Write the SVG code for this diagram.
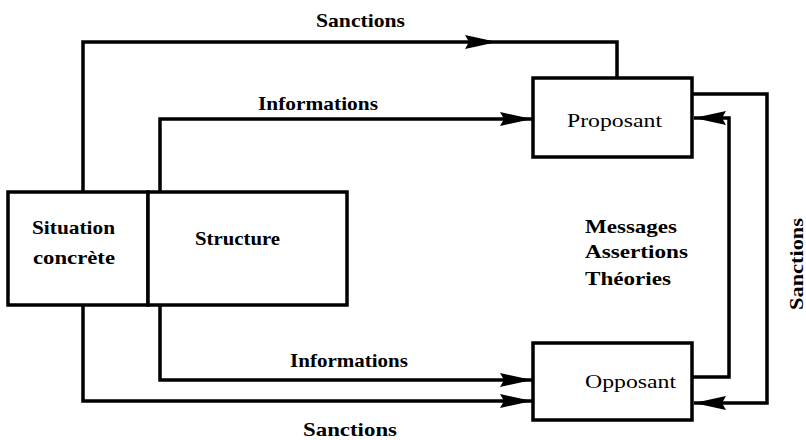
<svg xmlns="http://www.w3.org/2000/svg" width="806" height="440" viewBox="0 0 806 440">
<style>
.box{fill:#fff;stroke:#000;stroke-width:3.5}
.ln{fill:none;stroke:#000;stroke-width:3.5}
.t{font-family:"Liberation Serif","Times New Roman",serif;font-size:19px;font-weight:bold;fill:#000}
.n{font-family:"Liberation Serif","Times New Roman",serif;font-size:19px;fill:#000}
</style>
<defs>
<marker id="ah" markerUnits="userSpaceOnUse" markerWidth="34" markerHeight="18" refX="32" refY="9" orient="auto">
<path d="M0,2 L32,9 L0,16 L4,9 Z" fill="#000"/>
</marker>
</defs>
<g id="connectors">
<path class="ln" d="M83,191 L83,42 L497,42" marker-end="url(#ah)"/>
<path class="ln" d="M497,42 L617,42 L617,78"/>
<path class="ln" d="M160,191 L160,119 L532,119" marker-end="url(#ah)"/>
<path class="ln" d="M160,305 L160,380 L532,380" marker-end="url(#ah)"/>
<path class="ln" d="M83,305 L83,401 L532,401" marker-end="url(#ah)"/>
<path class="ln" d="M692,94 L767,94 L767,403 L694,403" marker-end="url(#ah)"/>
<path class="ln" d="M692,377 L729,377 L729,118 L694,118" marker-end="url(#ah)"/>
</g>
<g id="situation">
<rect class="box" x="8" y="192" width="140" height="113"/>
<text class="t" x="32" y="234" textLength="83" lengthAdjust="spacingAndGlyphs">Situation</text>
<text class="t" x="33" y="264" textLength="82" lengthAdjust="spacingAndGlyphs">concrète</text>
</g>
<g id="structure">
<rect class="box" x="148" y="192" width="199" height="113"/>
<text class="t" x="195" y="245" textLength="85" lengthAdjust="spacingAndGlyphs">Structure</text>
</g>
<g id="proposant">
<rect class="box" x="533" y="78" width="159" height="79"/>
<text class="n" x="567" y="127" textLength="95" lengthAdjust="spacingAndGlyphs">Proposant</text>
</g>
<g id="opposant">
<rect class="box" x="533" y="343" width="159" height="77"/>
<text class="n" x="585" y="388" textLength="91" lengthAdjust="spacingAndGlyphs">Opposant</text>
</g>
<g id="labels">
<text class="t" x="316" y="27" textLength="89" lengthAdjust="spacingAndGlyphs">Sanctions</text>
<text class="t" x="258" y="110" textLength="120" lengthAdjust="spacingAndGlyphs">Informations</text>
<text class="t" x="290" y="367" textLength="118" lengthAdjust="spacingAndGlyphs">Informations</text>
<text class="t" x="303" y="436" textLength="94" lengthAdjust="spacingAndGlyphs">Sanctions</text>
<text class="t" x="585" y="233" textLength="92" lengthAdjust="spacingAndGlyphs">Messages</text>
<text class="t" x="585" y="258" textLength="103" lengthAdjust="spacingAndGlyphs">Assertions</text>
<text class="t" x="585" y="285" textLength="86" lengthAdjust="spacingAndGlyphs">Théories</text>
<text class="t" x="0" y="0" textLength="92" lengthAdjust="spacingAndGlyphs" transform="translate(803,310) rotate(-90)">Sanctions</text>
</g>
</svg>
